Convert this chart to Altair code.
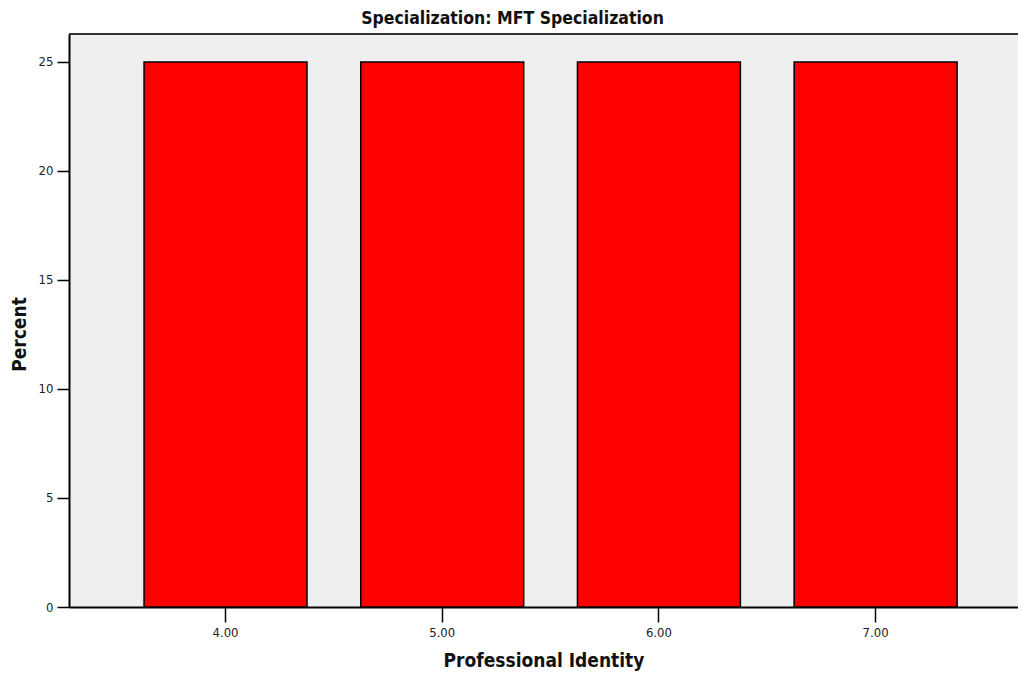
import altair as alt
import pandas as pd

categories = ["4.00", "5.00", "6.00", "7.00"]
percents = [25, 25, 25, 25]
y_ticks = [0, 5, 10, 15, 20, 25]

df = pd.DataFrame({"identity": categories, "percent": percents})

FONT = "DejaVu Sans Condensed, Liberation Sans Narrow, Liberation Sans, sans-serif"
W, H = 949, 573

bars = alt.Chart(df).mark_bar(
    color="#ff0000", stroke="#000000", strokeWidth=1.5
).encode(
    x=alt.X(
        "identity:N",
        sort=categories,
        scale=alt.Scale(paddingInner=0.248, paddingOuter=0.3137, align=0.552),
        axis=alt.Axis(
            title="Professional Identity", labelAngle=0, labelFont=FONT,
            labelFontSize=13, labelColor="#222222", labelPadding=4,
            tickSize=15, tickWidth=1.5, tickColor="#000000",
            domainColor="#000000", domainWidth=2,
            titleFont=FONT, titleFontSize=19, titleFontWeight="bold",
            titleColor="#111111", titlePadding=12,
        ),
    ),
    y=alt.Y(
        "percent:Q",
        scale=alt.Scale(domain=[0, 26.28], nice=False),
        axis=alt.Axis(
            title="Percent", values=y_ticks, grid=False, labelFont=FONT,
            labelFontSize=13, labelColor="#222222", labelPadding=4,
            tickSize=12, tickWidth=1.5, tickColor="#000000",
            domainColor="#000000", domainWidth=2,
            titleFont=FONT, titleFontSize=19, titleFontWeight="bold",
            titleColor="#111111", titlePadding=9, titleY=300,
        ),
    ),
)

top_line = alt.Chart(df).mark_rule(color="#333333", strokeWidth=2).encode(
    x=alt.value(0), x2=alt.value(W), y=alt.value(0)
)

chart = alt.layer(bars, top_line).properties(
    width=W, height=H,
    title=alt.TitleParams(
        "Specialization: MFT Specialization", font=FONT, fontSize=17.5,
        fontWeight="bold", color="#111111", dx=-31, offset=6,
    ),
    autosize=alt.AutoSizeParams(type="none"),
    padding={"left": 61, "top": 26, "right": 0, "bottom": 80},
).configure_view(
    fill="#efefef", stroke=None
)

chart.save("out.html", embed_options={"renderer": "svg", "actions": False})
